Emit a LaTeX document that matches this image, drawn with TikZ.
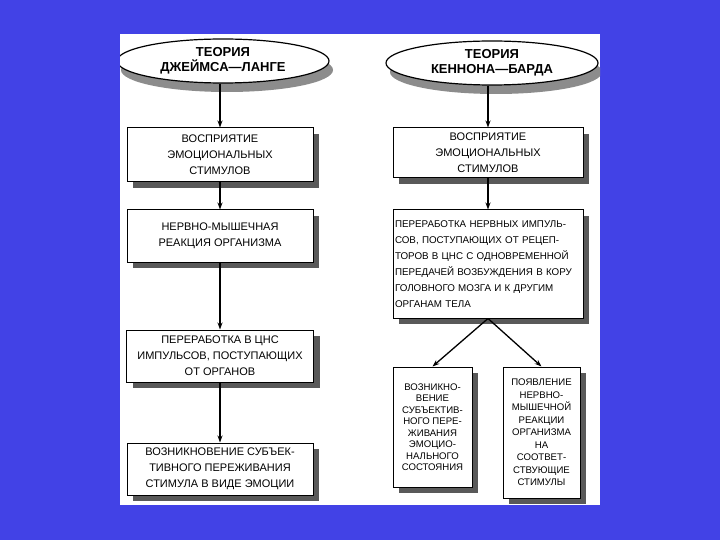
\documentclass[tikz,border=0pt]{standalone}
\usepackage{fontspec}
\setmainfont{Liberation Sans}
\usetikzlibrary{shapes.geometric,shadows,arrows.meta}
\definecolor{slideblue}{RGB}{66,66,230}
\begin{document}
\begin{tikzpicture}[x=1pt,y=-1pt,
  theory/.style={ellipse,draw,line width=1.2pt,fill=white,minimum width=212pt,minimum height=44pt,inner sep=0pt,align=center,
    font=\bfseries\fontsize{13}{15}\selectfont,general shadow={fill=black!45,shadow xshift=4pt,shadow yshift=-9pt}},
  stage/.style={rectangle,draw,line width=1pt,fill=white,inner sep=3pt,align=center,
    font=\fontsize{11}{16}\selectfont,general shadow={fill=black!65,shadow xshift=6pt,shadow yshift=-6pt}},
  flow/.style={-{Stealth[length=7pt,width=5pt]},line width=1.3pt}]
\fill[slideblue] (0,0) rectangle (720,540);
\fill[white] (120,34) rectangle (600,505);
\begin{scope}
\clip (120,34) rectangle (600,505);
% James-Lange
\node[theory] (jl) at (223,61) {ТЕОРИЯ\\ДЖЕЙМСА—ЛАНГЕ};
\node[stage,minimum width=186pt,minimum height=54pt] (jl1) at (220,155) {ВОСПРИЯТИЕ\\ЭМОЦИОНАЛЬНЫХ\\СТИМУЛОВ};
\node[stage,minimum width=186pt,minimum height=52pt] (jl2) at (220,236) {НЕРВНО-МЫШЕЧНАЯ\\РЕАКЦИЯ ОРГАНИЗМА};
\node[stage,minimum width=187pt,minimum height=52pt] (jl3) at (220,356) {ПЕРЕРАБОТКА В ЦНС\\ИМПУЛЬСОВ, ПОСТУПАЮЩИХ\\ОТ ОРГАНОВ};
\node[stage,minimum width=186pt,minimum height=52pt] (jl4) at (220,469) {ВОЗНИКНОВЕНИЕ СУБЪЕК-\\ТИВНОГО ПЕРЕЖИВАНИЯ\\СТИМУЛА В ВИДЕ ЭМОЦИИ};
% Cannon-Bard
\node[theory] (cb) at (492,63) {ТЕОРИЯ\\КЕННОНА—БАРДА};
\node[stage,minimum width=190pt,minimum height=50pt] (cb1) at (488,153) {ВОСПРИЯТИЕ\\ЭМОЦИОНАЛЬНЫХ\\СТИМУЛОВ};
\node[stage,minimum width=190pt,minimum height=108pt,inner xsep=2pt,text width=186pt,align=left,font=\fontsize{9.8}{16}\selectfont] (cb2) at (488,264)
  {ПЕРЕРАБОТКА НЕРВНЫХ ИМПУЛЬ-\\СОВ, ПОСТУПАЮЩИХ ОТ РЕЦЕП-\\ТОРОВ В ЦНС С ОДНОВРЕМЕННОЙ\\ПЕРЕДАЧЕЙ ВОЗБУЖДЕНИЯ В КОРУ\\ГОЛОВНОГО МОЗГА И К ДРУГИМ\\ОРГАНАМ ТЕЛА};
\node[stage,minimum width=79pt,minimum height=120pt,inner sep=1pt,font=\fontsize{9.6}{11.5}\selectfont] (cb3) at (432.5,427)
  {ВОЗНИКНО-\\ВЕНИЕ\\СУБЪЕКТИВ-\\НОГО ПЕРЕ-\\ЖИВАНИЯ\\ЭМОЦИО-\\НАЛЬНОГО\\СОСТОЯНИЯ};
\node[stage,minimum width=77pt,minimum height=131pt,inner sep=1pt,font=\fontsize{9.6}{12.5}\selectfont] (cb4) at (541.5,432.5)
  {ПОЯВЛЕНИЕ\\НЕРВНО-\\МЫШЕЧНОЙ\\РЕАКЦИИ\\ОРГАНИЗМА\\НА\\СООТВЕТ-\\СТВУЮЩИЕ\\СТИМУЛЫ};
% arrows
\draw[flow] (jl.south -| jl1.north) -- (jl1.north);
\draw[flow] (jl1.south) -- (jl2.north);
\draw[flow] (jl2.south) -- (jl3.north);
\draw[flow] (jl3.south) -- (jl4.north);
\draw[flow] (cb.south -| cb1.north) -- (cb1.north);
\draw[flow] (cb1.south) -- (cb2.north);
\draw[flow] (cb2.south) -- (cb3.north);
\draw[flow] (cb2.south) -- (cb4.north);
\end{scope}
\end{tikzpicture}
\end{document}
